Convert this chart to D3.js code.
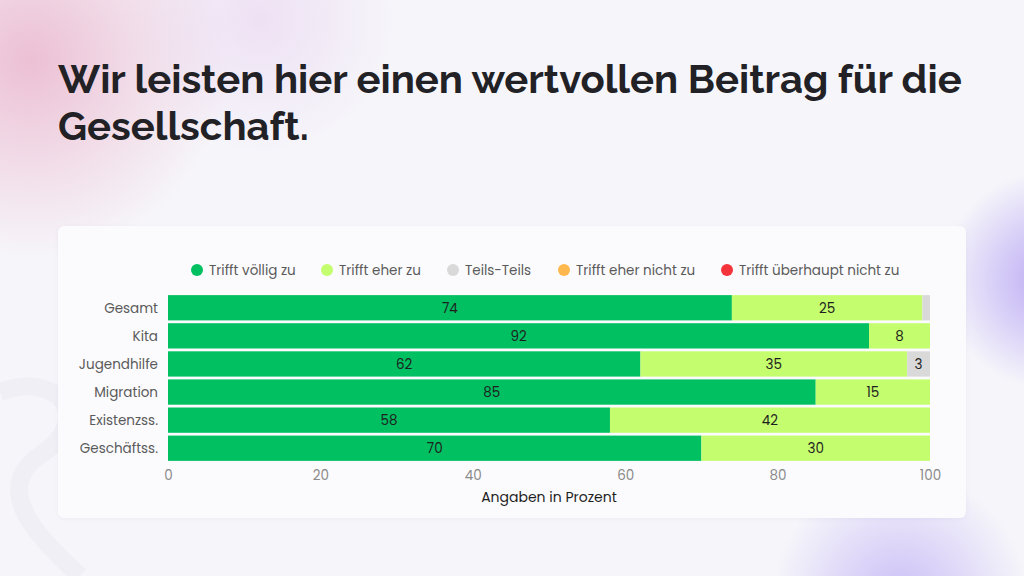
<!DOCTYPE html>
<html>
<head>
<meta charset="utf-8">
<script src="https://cdn.jsdelivr.net/npm/d3@7"></script>
<style>
  html, body { margin: 0; padding: 0; background: #f6f6fa; }
  svg { display: block; }
</style>
</head>
<body>
<svg id="chart" width="1024" height="576"></svg>
<script>
//  data
const title_lines = ["Wir leisten hier einen wertvollen Beitrag für die", "Gesellschaft."];
const categories = ["Gesamt", "Kita", "Jugendhilfe", "Migration", "Existenzss.", "Geschäftss."];
const series_names = ["Trifft völlig zu", "Trifft eher zu", "Teils-Teils", "Trifft eher nicht zu", "Trifft überhaupt nicht zu"];
const series_colors = ["#00c062", "#c4fd6d", "#d9d9d9", "#ffb84d", "#f5333a"];
const voellig = [74, 92, 62, 85, 58, 70];
const eher = [25, 8, 35, 15, 42, 30];
const teils = [1, 0, 3, 0, 0, 0];
const eher_nicht = [0, 0, 0, 0, 0, 0];
const ueberhaupt_nicht = [0, 0, 0, 0, 0, 0];
const x_ticks = [0, 20, 40, 60, 80, 100];
const x_title = "Angaben in Prozent";

//  draw chart
function draw_chart() {
  const w = 1024
  const h = 576
  const margin = ({top: 294, right: 94, bottom: 114, left: 168})
  const font = "Poppins, 'Noto Sans', sans-serif"

  const svg = d3.select("#chart").attr("width", w).attr("height", h)
  svg.selectAll('*').remove()

  //  background blobs
  const defs = svg.append("defs")
  const blobs = [
    {id: "b1", cx: 30, cy: 60, r: 200, c: "#e8a9c4", o: 0.7},
    {id: "b2", cx: 260, cy: 20, r: 140, c: "#e4c6ec", o: 0.45},
    {id: "b3", cx: 1050, cy: 280, r: 110, c: "#b4a0f4", o: 0.9},
    {id: "b4", cx: 900, cy: 600, r: 130, c: "#c0b0f6", o: 0.8}
  ]
  blobs.forEach(b => {
    const g = defs.append("radialGradient").attr("id", b.id)
    g.append("stop").attr("offset", "0%").attr("stop-color", b.c).attr("stop-opacity", b.o)
    g.append("stop").attr("offset", "100%").attr("stop-color", b.c).attr("stop-opacity", 0)
  })
  const shadow = defs.append("filter").attr("id", "shadow").attr("x", "-5%").attr("y", "-5%").attr("width", "110%").attr("height", "120%")
  shadow.append("feDropShadow").attr("dx", 0).attr("dy", 1).attr("stdDeviation", 2).attr("flood-color", "#9a96b8").attr("flood-opacity", 0.12)

  svg.append("rect").attr("width", w).attr("height", h).attr("fill", "#f6f6fa")
  svg.selectAll("circle.blob")
     .data(blobs).enter().append("circle")
     .attr("class", "blob")
     .attr("cx", b => b.cx).attr("cy", b => b.cy).attr("r", b => b.r)
     .attr("fill", b => "url(#" + b.id + ")")

  //  faint wave on the left
  svg.append("path")
     .attr("d", "M 0 392 C 60 370, 95 420, 40 455 C -10 490, 40 540, 80 576")
     .attr("fill", "none")
     .attr("stroke", "#ecebf1")
     .attr("stroke-width", 18)
     .attr("opacity", 0.6)

  //  title
  const title = svg.append("g")
  title_lines.forEach((t, i) => {
    title.append("text")
         .attr("x", 58)
         .attr("y", 93 + i * 47)
         .text(t)
         .style("font-family", "Raleway, Lato, 'Open Sans', sans-serif")
         .style("font-weight", "700")
         .style("font-size", "38px")
         .style("fill", "#222226")
  })
  //  fit first line to reference width
  const first = title.select("text").node()
  const scale = 904 / first.getComputedTextLength()
  title.selectAll("text").style("font-size", (38 * scale) + "px")

  //  panel
  svg.append("rect")
     .attr("x", 58).attr("y", 226)
     .attr("width", 908).attr("height", 292)
     .attr("rx", 6)
     .attr("fill", "#fbfbfd")
     .attr("filter", "url(#shadow)")

  //  stack
  const rows = categories.map((c, i) => ({
    cat: c, s0: voellig[i], s1: eher[i], s2: teils[i], s3: eher_nicht[i], s4: ueberhaupt_nicht[i]
  }))
  const stacked = d3.stack().keys(["s0", "s1", "s2", "s3", "s4"])(rows)

  const x = d3.scaleLinear().domain([0, 100]).range([margin.left, w - margin.right])
  const y = d3.scaleBand().domain(categories).range([margin.top, h - margin.bottom]).paddingInner(0.1).paddingOuter(0.04)

  const layers = svg.selectAll("g.layer")
     .data(stacked).enter().append("g")
     .attr("class", "layer")
     .attr("fill", (_, i) => series_colors[i])

  layers.selectAll("rect")
     .data(d => d).enter().append("rect")
     .attr("x", d => x(d[0]))
     .attr("y", d => y(d.data.cat))
     .attr("width", d => x(d[1]) - x(d[0]))
     .attr("height", y.bandwidth())

  //  value labels
  layers.selectAll("text")
     .data(d => d.filter(e => e[1] - e[0] >= 2)).enter().append("text")
     .attr("x", d => (x(d[0]) + x(d[1])) / 2)
     .attr("y", d => y(d.data.cat) + y.bandwidth() / 2 + 5)
     .attr("text-anchor", "middle")
     .text(d => d[1] - d[0])
     .style("font-family", font)
     .style("font-size", "13.5px")
     .style("fill", "#1f1f1f")

  //  y labels
  svg.selectAll("text.ylab")
     .data(categories).enter().append("text")
     .attr("class", "ylab")
     .attr("x", margin.left - 10)
     .attr("y", d => y(d) + y.bandwidth() / 2 + 5)
     .attr("text-anchor", "end")
     .text(d => d)
     .style("font-family", font)
     .style("font-size", "13.5px")
     .style("fill", "#5a5a5a")

  //  x axis
  const xAxis = svg.append("g")
     .attr("transform", "translate(0," + (h - margin.bottom) + ")")
     .call(d3.axisBottom(x).tickValues(x_ticks).tickSize(0).tickPadding(8))
  xAxis.select(".domain").remove()
  xAxis.selectAll("text")
     .style("font-family", font)
     .style("font-size", "13.5px")
     .style("fill", "#8a8a8a")

  svg.append("text")
     .attr("x", x(50))
     .attr("y", 502)
     .attr("text-anchor", "middle")
     .text(x_title)
     .style("font-family", font)
     .style("font-size", "14px")
     .style("fill", "#1f1f1f")

  //  legend
  const legend_x = [197, 327, 453, 564, 727]
  const legend = svg.selectAll("g.legend")
     .data(series_names).enter().append("g")
     .attr("class", "legend")
     .attr("transform", (_, i) => "translate(" + legend_x[i] + ",270)")
  legend.append("circle")
     .attr("r", 6)
     .attr("fill", (_, i) => series_colors[i])
  legend.append("text")
     .attr("x", 12)
     .attr("y", 5)
     .text(d => d)
     .style("font-family", font)
     .style("font-size", "13.5px")
     .style("fill", "#5a5a5a")
}

draw_chart();
</script>
</body>
</html>
